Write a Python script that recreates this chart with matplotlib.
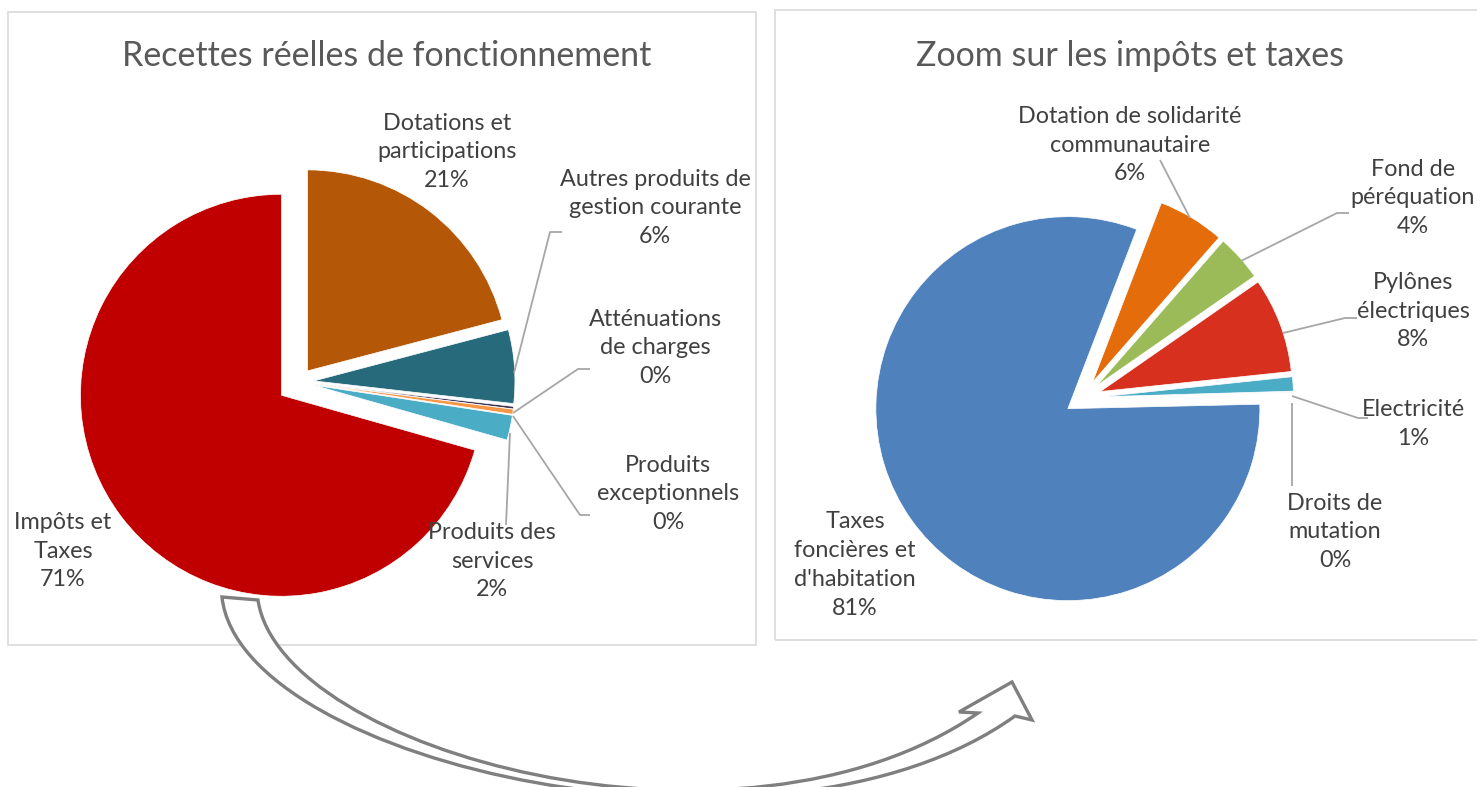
import matplotlib
matplotlib.use("Agg")
import matplotlib.pyplot as plt
from matplotlib.path import Path
from matplotlib.patches import PathPatch, Rectangle

# ---------------- data ----------------
left_title = "Recettes réelles de fonctionnement"
left_labels = ["Impôts et\nTaxes", "Dotations et\nparticipations", "Autres produits de\ngestion courante",
               "Atténuations\nde charges", "Produits\nexceptionnels", "Produits des\nservices"]
left_values = [70.6, 20.9, 5.9, 0.2, 0.4, 2.0]
left_colors = ["#C00000", "#B45706", "#276A7B", "#3F3151", "#F79646", "#4BACC6"]

right_title = "Zoom sur les impôts et taxes"
right_labels = ["Taxes\nfoncières et\nd'habitation", "Dotation de solidarité\ncommunautaire", "Fond de\npéréquation",
                "Pylônes\nélectriques", "Electricité", "Droits de\nmutation"]
right_values = [81.2, 5.6, 3.9, 8.0, 1.2, 0.1]
right_colors = ["#4F81BD", "#E46C0A", "#9BBB59", "#D7301F", "#4BACC6", "#F2F2F2"]

# ---------------- layout ----------------
W, H = 1477, 787
FONT = ["Lato", "DejaVu Sans"]
plt.rcParams["font.family"] = FONT

fig = plt.figure(figsize=(W / 100, H / 100), dpi=100)
ax = fig.add_axes([0, 0, 1, 1])


def Y(y):
    return H - y


def P(x, y):
    return (x, H - y)


# panels
ax.add_patch(Rectangle(P(8, 645), 748, 633, fill=False, edgecolor="#D9D9D9", lw=1.2, zorder=1))
ax.add_patch(Rectangle(P(775, 640), 720, 630, fill=False, edgecolor="#D9D9D9", lw=1.2, zorder=1))

# titles
TTL = dict(ha="center", va="center", fontsize=24.5, color="#595959")
ax.text(387, Y(56), left_title, **TTL)
ax.text(1130, Y(56), right_title, **TTL)

# ---------------- left pie ----------------
tot_l = sum(left_values)
start_l = 90 + 360 * left_values[0] / tot_l
left_explode = [22, 14, 15, 15, 15, 15]
ax.pie(left_values, explode=left_explode, colors=left_colors, startangle=start_l,
       counterclock=False, radius=201, center=P(299, 382), frame=True,
       wedgeprops=dict(edgecolor="white", linewidth=0.5))

# ---------------- right pie ----------------
tot_r = sum(right_values)
start_r = 69 + 360 * right_values[0] / tot_r
right_explode = [18.5] * len(right_values)
ax.pie(right_values, explode=right_explode, colors=right_colors, startangle=start_r,
       counterclock=False, radius=192, center=P(1083, 398), frame=True,
       wedgeprops=dict(edgecolor="white", linewidth=0.5))

# ---------------- labels ----------------
LBL = dict(ha="center", va="center", fontsize=16.8, color="#404040", linespacing=1.46, multialignment="center")


def pct(v, tot):
    return f"{v / tot * 100:.0f}%"


left_pos = [(63, 551), (447, 152), (655, 208), (655, 348), (668, 494), (492, 561)]
for lab, v, (x, y) in zip(left_labels, left_values, left_pos):
    ax.text(x, Y(y), lab + "\n" + pct(v, tot_l), **LBL)

right_pos = [(855, 565), (1130, 145), (1413, 198), (1413, 311), (1413, 424), (1335, 532)]
for lab, v, (x, y) in zip(right_labels, right_values, right_pos):
    ax.text(x, Y(y), lab + "\n" + pct(v, tot_r), **LBL)

# leader lines
leaders = [
    [(514, 373), (550, 232), (562, 232)],
    [(513, 413), (578, 369), (590, 369)],
    [(513, 416), (580, 515), (590, 515)],
    [(510, 433), (506, 525)],
    [(1190, 218), (1160, 160)],
    [(1241, 261), (1337, 213), (1349, 213)],
    [(1283, 333), (1345, 318), (1357, 318)],
    [(1292, 396), (1358, 418), (1368, 418)],
    [(1292, 403), (1292, 486)],
]
for pts in leaders:
    xs = [p[0] for p in pts]
    ys = [Y(p[1]) for p in pts]
    ax.plot(xs, ys, color="#A6A6A6", lw=1.3, solid_capstyle="butt", zorder=3)

# ---------------- curved arrow ----------------
verts = [
    P(222, 597),
    P(240, 765), P(780, 885), P(1015, 716),   # outer edge
    P(1032, 720),
    P(1012, 682),
    P(959, 712),
    P(978, 713),
    P(740, 877), P(280, 752), P(258, 600),    # inner edge back
    P(222, 597),
]
codes = [Path.MOVETO,
         Path.CURVE4, Path.CURVE4, Path.CURVE4,
         Path.LINETO, Path.LINETO, Path.LINETO, Path.LINETO,
         Path.CURVE4, Path.CURVE4, Path.CURVE4,
         Path.CLOSEPOLY]
ax.add_patch(PathPatch(Path(verts, codes), facecolor="white", edgecolor="#7F7F7F",
                       lw=2.4, joinstyle="miter", zorder=5))

ax.set_xlim(0, W)
ax.set_ylim(0, H)
ax.set_aspect("equal")
ax.axis("off")

fig.savefig("out.png", dpi=100, facecolor="white")
